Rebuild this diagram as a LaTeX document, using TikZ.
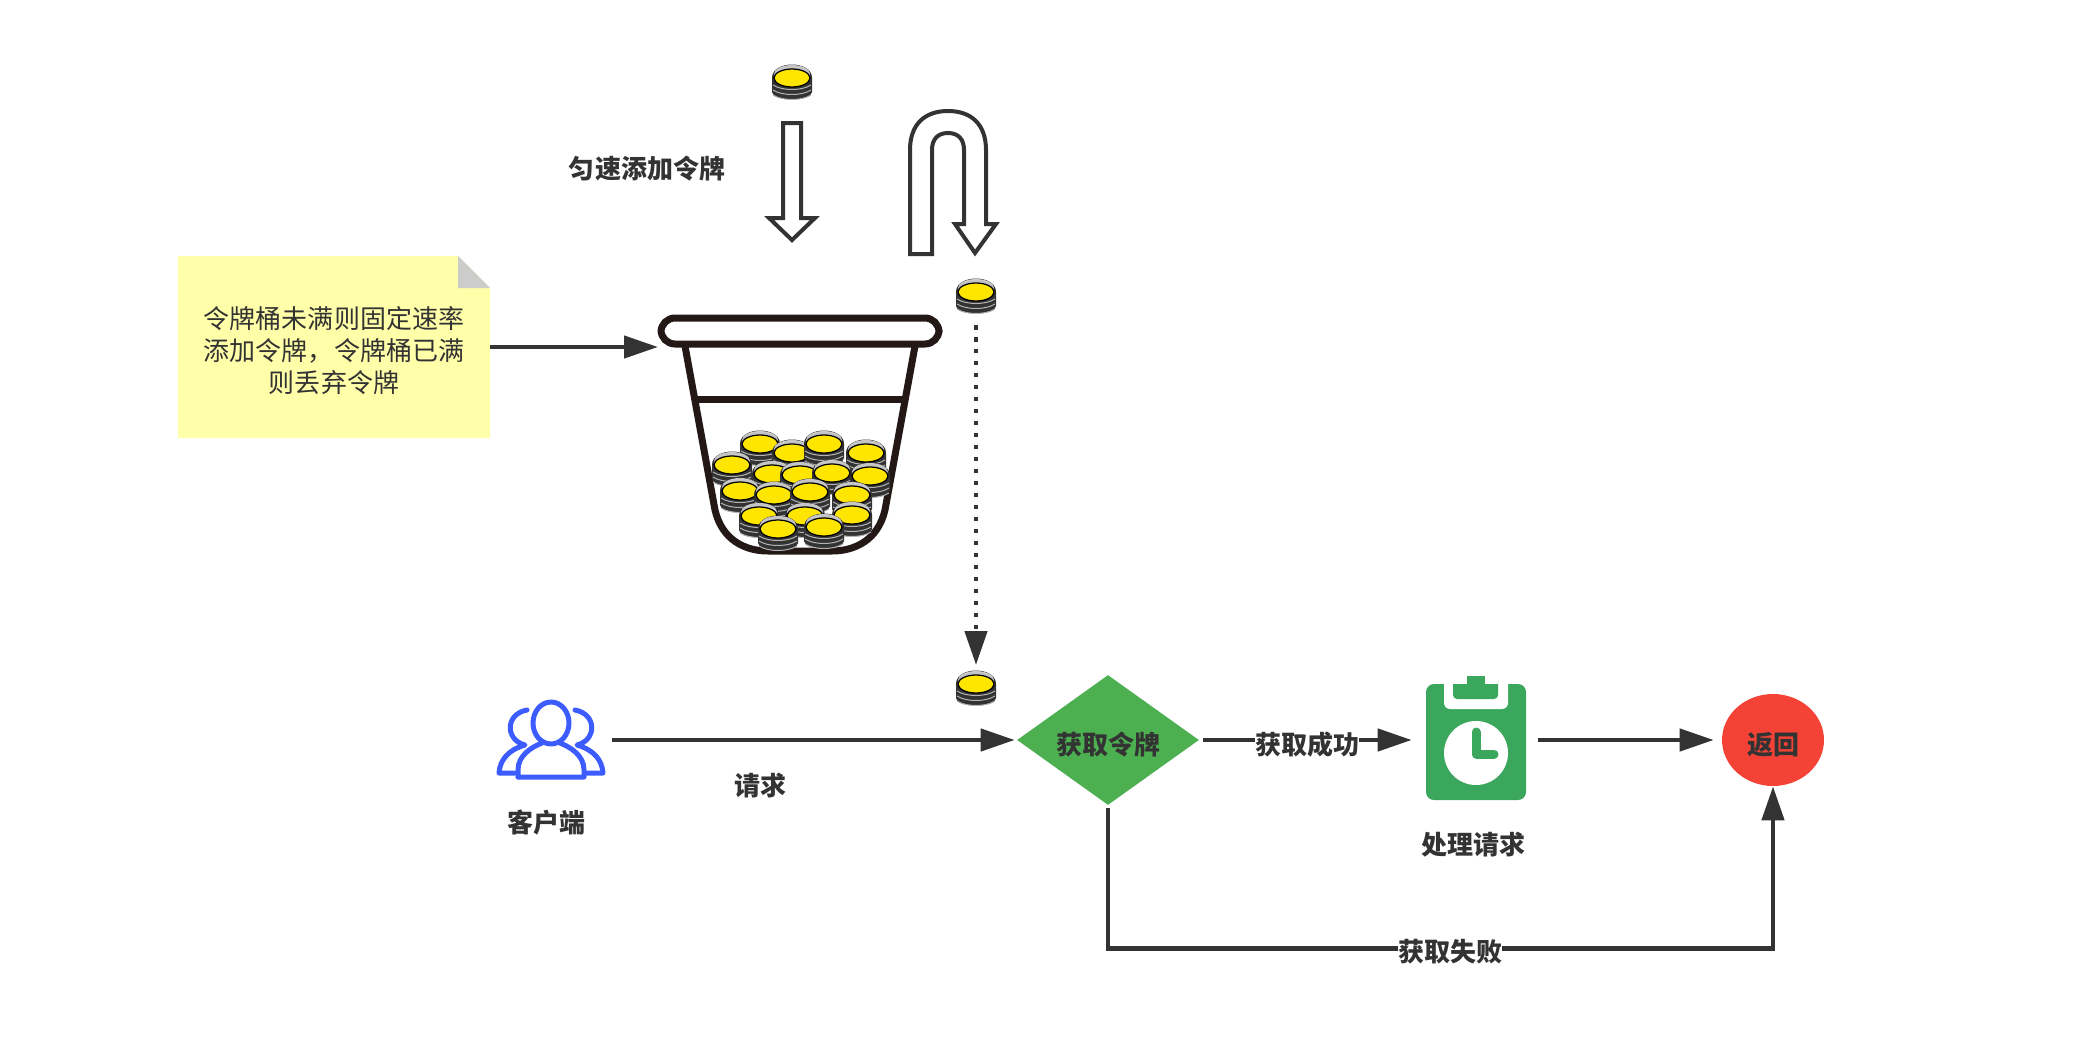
\documentclass[tikz,border=0pt]{standalone}
\usepackage{fontspec}
\setmainfont{Noto Sans CJK SC}
\usetikzlibrary{arrows.meta,shapes.geometric}

\definecolor{linecol}{HTML}{333333}
\definecolor{bucketcol}{HTML}{231815}
\definecolor{notecol}{HTML}{FFFFA9}
\definecolor{coinyellow}{HTML}{FFE600}
\definecolor{usercol}{HTML}{3D5CFF}
\definecolor{gatecol}{HTML}{4CAF50}
\definecolor{taskcol}{HTML}{3AA75C}
\definecolor{retcol}{HTML}{F44336}

\tikzstyle{conn} = [draw,line width=0.09cm,linecol,-{Triangle[length=0.68cm,width=0.44cm]}]
\tikzstyle{blockarrow} = [draw,line width=0.08cm,linecol,fill=white,line join=miter]
\tikzstyle{lbl} = [text=linecol,inner sep=0pt,font=\fontsize{14.8pt}{18pt}\selectfont\bfseries]
\tikzstyle{ghost} = [inner sep=0pt]

\tikzset{coin/.pic={
	\fill[linecol] (-20,0) .. controls (-20,-18) and (20,-18) .. (20,0) -- (20,14) .. controls (20,24) and (-20,24) .. (-20,14) -- cycle;
	\fill[gray!45] (0,-4) ellipse (18 and 9);
	% stripes of the stack
	\foreach \sy in {7,12,17}
		\draw[gray!60,line width=0.02cm] (-19,\sy) .. controls (-10,\sy+6) and (10,\sy+6) .. (19,\sy);
	\draw[black,fill=coinyellow,line width=0.025cm] (0,0) ellipse (18 and 9);
}}

\begin{document}
\begin{tikzpicture}[x=0.02cm,y=-0.02cm]
	\useasboundingbox (0,0) rectangle (2090,1038);
	% note
	\fill[notecol] (178,256) -- (458,256) -- (490,288) -- (490,438) -- (178,438) -- cycle;
	\fill[gray!40] (458,256) -- (490,288) -- (458,288) -- cycle;
	\node[ghost,minimum width=6.24cm,minimum height=3.64cm] (note) at (334,347) {};
	\node[ghost,text=linecol,align=center,font=\fontsize{14.8pt}{18.2pt}\selectfont] (noteText) at (334,351)
		{令牌桶未满则固定速率\\添加令牌，令牌桶已满\\则丢弃令牌};
	% bucket
	\draw[bucketcol,line width=0.14cm,rounded corners=0.28cm] (661,318) rectangle (939,344);
	\draw[bucketcol,line width=0.14cm] (685,346) -- (715,510) .. controls (722,540) and (745,551) .. (768,551) -- (832,551) .. controls (855,551) and (878,540) .. (885,510) -- (915,346);
	\draw[bucketcol,line width=0.14cm] (697,399) -- (903,399);
	% coins in the bucket
	\foreach \cx/\cy in {760/444,792/453,824/444,866/453,732/465,772/474,800/475,832/473,870/476,740/491,774/495,810/492,852/495,759/516,805/516,852/515,778/529,824/527}
		\pic at (\cx,\cy) {coin};
	% single coins
	\pic at (792,78) {coin};
	\pic at (976,292) {coin};
	\pic at (976,684) {coin};
	% block arrows
	\path[blockarrow] (783,123) -- (801,123) -- (801,218) -- (815,218) -- (792,240) -- (769,218) -- (783,218) -- cycle;
	\path[blockarrow] (910,254) -- (910,150) .. controls (910,124) and (925,111) .. (948,111) .. controls (971,111) and (986,124) .. (986,150) -- (986,224) -- (996,224) -- (975,253) -- (955,224) -- (964,224) -- (964,150) .. controls (964,139) and (958,133) .. (948,133) .. controls (938,133) and (932,139) .. (932,150) -- (932,254) -- cycle;
	\node[lbl] (rateLabel) at (647,169) {匀速添加令牌};
	% client icon
	\begin{scope}[usercol,line width=0.1cm,line join=round,line cap=round]
		\draw (551,723) ellipse (18 and 21);
		\draw (518,777) -- (584,777) -- (584,770) .. controls (584,755) and (570,747) .. (560,743);
		\draw (518,777) -- (518,770) .. controls (518,755) and (532,747) .. (542,743);
		\draw (527,710) .. controls (505,714) and (505,740) .. (525,745) .. controls (508,750) and (500,760) .. (499,773) -- (515,773);
		\draw (575,710) .. controls (597,714) and (597,740) .. (577,745) .. controls (594,750) and (602,760) .. (603,773) -- (587,773);
	\end{scope}
	\node[ghost,minimum width=2.12cm,minimum height=1.58cm] (client) at (551,740) {};
	\node[lbl] (clientLabel) at (546,823) {客户端};
	\node[lbl] (requestLabel) at (760,786) {请求};
	% gate
	\node[diamond,ghost,fill=gatecol,minimum width=3.64cm,minimum height=2.6cm,aspect=1.4] (gate) at (1108,740) {};
	\node[lbl] (gateLabel) at (1108,745) {获取令牌};
	% task icon
	\fill[taskcol,rounded corners=0.16cm] (1426,684) rectangle (1526,800);
	\fill[white,rounded corners=0.12cm] (1444,670) rectangle (1508,709);
	\fill[white] (1444,680) rectangle (1508,684);
	\fill[taskcol,rounded corners=0.08cm] (1453,676) rectangle (1498,699);
	\fill[white] (1453,676) rectangle (1467,684);
	\fill[white] (1485,676) rectangle (1498,684);
	\fill[taskcol,rounded corners=0.06cm] (1467,680) rectangle (1485,690);
	\fill[white] (1476,753) circle (32);
	\draw[taskcol,line width=0.18cm,line cap=round,line join=round] (1476,732) -- (1476,754) -- (1494,754);
	\node[ghost,minimum width=2cm,minimum height=2.4cm] (task) at (1476,740) {};
	\node[lbl] (taskLabel) at (1473,845) {处理请求};
	% return
	\node[ellipse,ghost,fill=retcol,minimum width=2.04cm,minimum height=1.84cm] (ret) at (1773,740) {};
	\node[lbl] (retLabel) at (1773,745) {返回};
	% connectors
	\coordinate (bucketIn) at (658,347);
	\coordinate (coinOut) at (976,325);
	\coordinate (coinIn) at (976,665);
	\path[conn] (note.east) to (bucketIn);
	\path[conn,dash pattern=on 0.09cm off 0.15cm] (coinOut) to (coinIn);
	\foreach \source/ \dest/\gapa/\gapb in {client/gate/0.16/0.04, gate/task/0.08/0.28, task/ret/0.24/0.16}
		\path[conn,shorten <=\gapa cm,shorten >=\gapb cm] (\source.east) to (\dest.west);
	\path[conn,shorten <=0.06cm] (gate.south) -- ++(0,143) -| (ret.south);
	% labels over the lines
	\node[lbl,fill=white] (okLabel) at (1307,745) {获取成功};
	\node[lbl,fill=white] (failLabel) at (1450,952) {获取失败};
\end{tikzpicture}
\end{document}
